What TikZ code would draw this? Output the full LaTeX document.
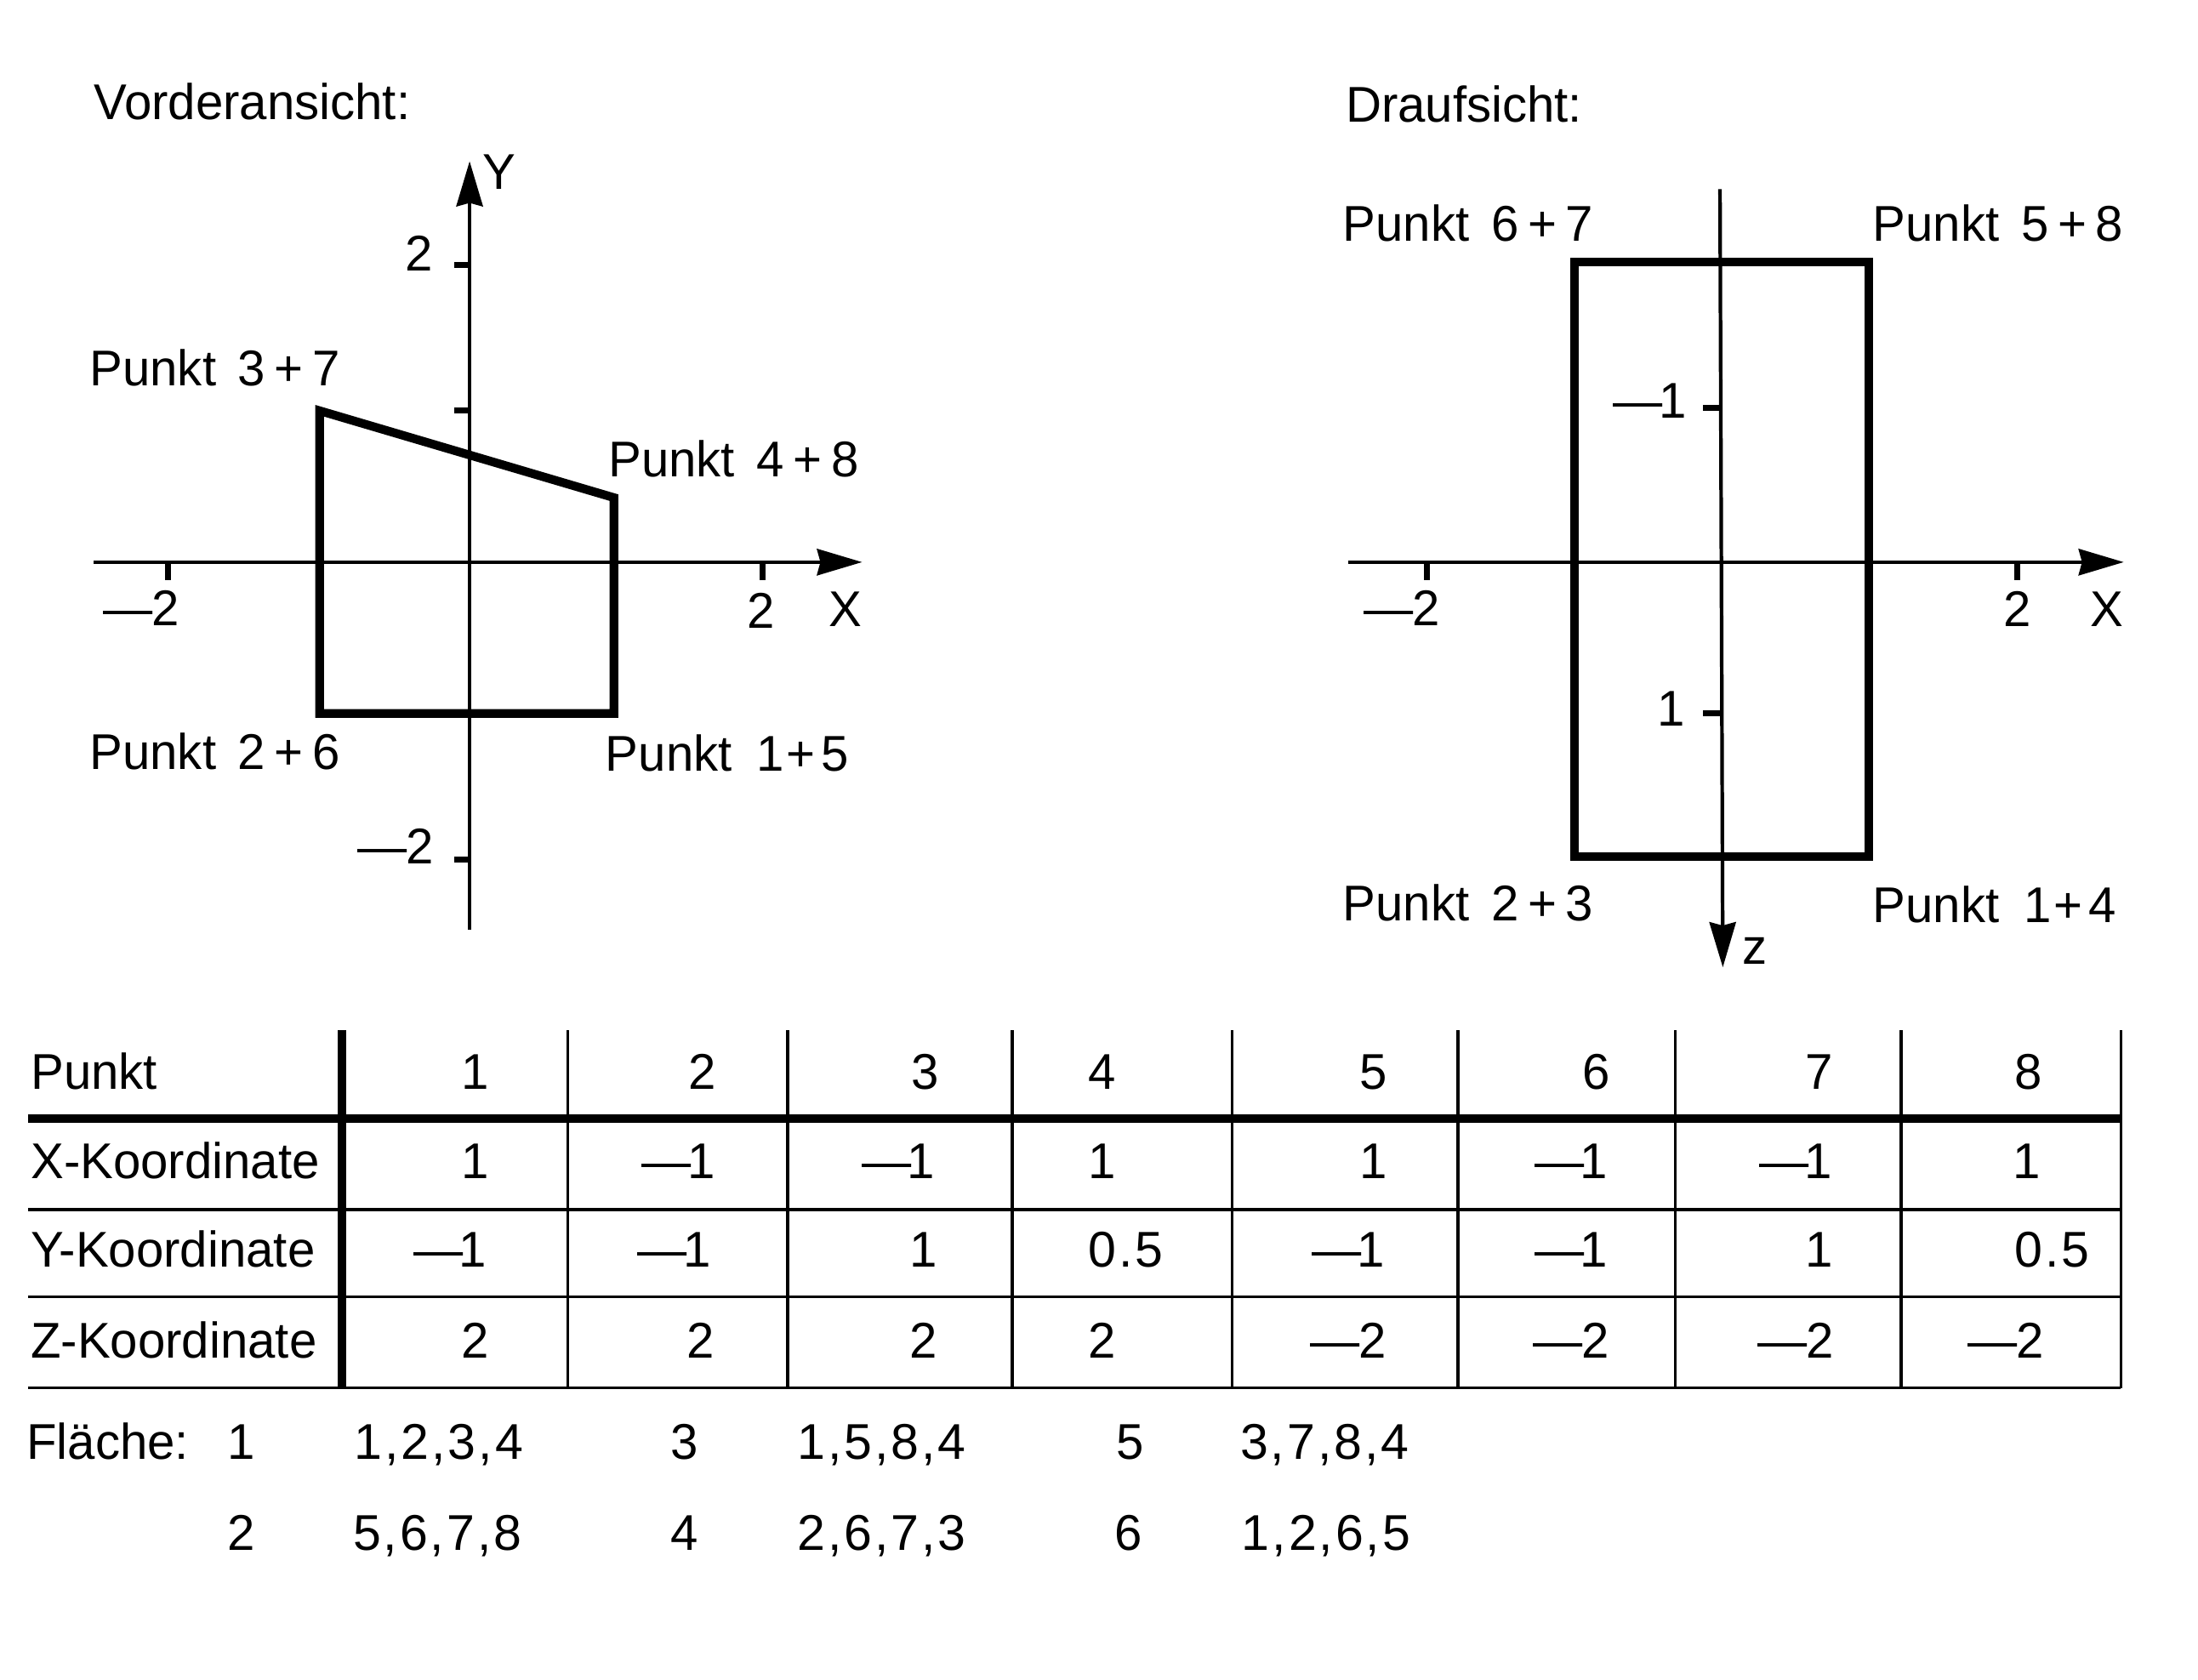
\documentclass[tikz,border=0pt]{standalone}
\usepackage{fontspec}
\setmainfont{Liberation Sans}[FakeStretch=0.985]
\newfontfamily\widefam{Liberation Sans}[LetterSpace=5.0]
\usetikzlibrary{arrows.meta}
\tikzset{
  txt/.style={inner sep=0pt,outer sep=0pt,font=\fontsize{16.8}{20}\selectfont,text=black},
  lab/.style={txt,anchor=base west},
  num/.style={txt,anchor=base},
  axis/.style={line width=1.2pt,black},
  axisarrow/.style={axis,-{Stealth[length=0.53cm,width=0.31cm,inset=0.04cm]}},
  tick/.style={line width=2pt,black},
  outline/.style={line width=2.9pt,black,line join=miter},
  grid/.style={line width=1.05pt,black},
  gridheavy/.style={line width=2.7pt,black}
}
\newcommand{\pk}[2]{Punkt\hspace{0.16em} #1\hspace{0.18em}+\hspace{0.18em}#2}
\newcommand{\pkone}[1]{Punkt\hspace{0.22em} 1\hspace{0.04em}+\hspace{0.12em}#1}
\newcommand{\mo}{—\kern-0.08em 1}
\newcommand{\mt}{—\kern-0.02em 2}
\newcommand{\ws}[1]{{\widefam #1}}
\begin{document}
\begin{tikzpicture}[x=0.01648cm,y=-0.01648cm]
\useasboundingbox (0,0) rectangle (1568,1198);
% Vorderansicht
\node[lab] (t1) at (67,85) {Vorderansicht:};
\coordinate (lxa) at (67,401); \coordinate (lxb) at (615,401);
\coordinate (lya) at (335,663); \coordinate (lyb) at (335,115);
\draw[axisarrow] (lxa) -- (lxb);
\draw[axisarrow] (lya) -- (lyb);
\foreach \x in {120,544} \draw[tick] (\x,401) -- (\x,414);
\foreach \y in {189,293,613} \draw[tick] (324,\y) -- (335,\y);
\coordinate (p37) at (228,293); \coordinate (p48) at (438,355);
\coordinate (p15) at (438,509); \coordinate (p26) at (228,509);
\draw[outline] (p37) -- (p48) -- (p15) -- (p26) -- cycle;
\node[lab] (l37) at (64,275) {\pk{3}{7}};
\node[lab] (l48) at (434,340) {\pk{4}{8}};
\node[lab] (l26) at (64,549) {\pk{2}{6}};
\node[lab] (l15) at (432,550) {\pkone{5}};
\node[num] (ly2) at (299,193) {2};
\node[num] (lym) at (282,616) {\mt};
\node[num] (lxm) at (101,446) {\mt};
\node[num] (lx2) at (543,448) {2};
\node[num] (lxx) at (603,447) {X};
\node[num] (lyy) at (356,135) {Y};
% Draufsicht
\node[lab] (t2) at (960,87) {Draufsicht:};
\coordinate (rxa) at (962,401); \coordinate (rxb) at (1515,401);
\coordinate (rza) at (1227,135); \coordinate (rzb) at (1229,690);
\draw[axisarrow] (rxa) -- (rxb);
\draw[axisarrow] (rza) -- (rzb);
\foreach \x in {1018,1439} \draw[tick] (\x,401) -- (\x,414);
\foreach \y in {291,509} \draw[tick] (1215,\y) -- (1227,\y);
\coordinate (q67) at (1123,187); \coordinate (q58) at (1333,187);
\coordinate (q14) at (1333,611); \coordinate (q23) at (1123,611);
\draw[outline] (q67) -- (q58) -- (q14) -- (q23) -- cycle;
\node[lab] (m67) at (958,172) {\pk{6}{7}};
\node[lab] (m58) at (1336,172) {\pk{5}{8}};
\node[lab] (m23) at (958,657) {\pk{2}{3}};
\node[lab] (m14) at (1336,658) {\pkone{4}};
\node[num] (rzm) at (1177,298) {\mo};
\node[num] (rz1) at (1192,518) {1};
\node[num] (rxm) at (1000,446) {\mt};
\node[num] (rx2) at (1439,447) {2};
\node[num] (rxx) at (1503,447) {X};
\node[num] (rzz) at (1252,688) {z};
% Tabelle
\foreach \y in {863,925,990} \draw[grid] (20,\y) -- (1513,\y);
\draw[gridheavy] (20,798) -- (1513,798);
\draw[gridheavy] (244,735) -- (244,990);
\foreach \x in {405,562,722,879,1040,1195,1356,1513} \draw[grid] (\x,735) -- (\x,990);
\node[lab] at (22,777) {Punkt};
\node[lab] at (22,841) {X-Koordinate};
\node[lab] at (22,904) {Y-Koordinate};
\node[lab] at (22,969) {Z-Koordinate};
\foreach \x/\t in {339/1,501/2,660/3,786/4,980/5,1139/6,1298/7,1447/8} \node[num] at (\x,777) {\t};
\foreach \x/\t in {339/1,484/\mo,641/\mo,786/1,980/1,1121/\mo,1281/\mo,1446/1} \node[num] at (\x,841) {\t};
\foreach \x/\t in {321/\mo,481/\mo,659/1,803/\ws{0.5},962/\mo,1121/\mo,1298/1,1464/\ws{0.5}} \node[num] at (\x,904) {\t};
\foreach \x/\t in {339/2,500/2,659/2,786/2,962/\mt,1121/\mt,1281/\mt,1431/\mt} \node[num] at (\x,969) {\t};
% Flaechen
\node[lab] at (19,1041) {Fläche:};
\foreach \x/\t in {172/1,313/\ws{1,2,3,4},488/3,629/\ws{1,5,8,4},806/5,945/\ws{3,7,8,4}} \node[num] at (\x,1041) {\t};
\foreach \x/\t in {172/2,312/\ws{5,6,7,8},488/4,629/\ws{2,6,7,3},805/6,946/\ws{1,2,6,5}} \node[num] at (\x,1106) {\t};
\end{tikzpicture}
\end{document}
